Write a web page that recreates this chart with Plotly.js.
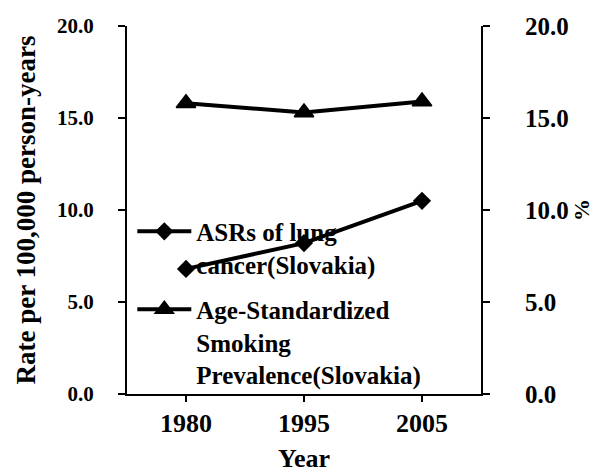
<!DOCTYPE html>
<html>
<head>
<meta charset="utf-8">
<script src="https://cdn.plot.ly/plotly-3.0.1.min.js"></script>
<style>html,body{margin:0;padding:0;background:#fff;}#chart{width:597px;height:473px;}</style>
</head>
<body>
<div id="chart"></div>
<script>
var years = ['1980', '1995', '2005'];
var lungCancerASR = [6.8, 8.2, 10.5];
var smokingPrevalence = [15.8, 15.3, 15.9];
var seriesNames = ['ASRs of lung<br>cancer(Slovakia)', 'Age-Standardized<br>Smoking<br>Prevalence(Slovakia)'];
var yTickVals = [0, 5, 10, 15, 20];
var yTickText = ['0.0', '5.0', '10.0', '15.0', '20.0'];

var FONT = '"Liberation Serif", "Times New Roman", Times, serif';

var traces = [
  {
    x: years, y: lungCancerASR, name: seriesNames[0], type: 'scatter', mode: 'lines+markers',
    line: {color: '#000', width: 4},
    marker: {symbol: 'diamond', size: 14, color: '#000'},
    legendgroup: 'g1', yaxis: 'y'
  },
  {
    x: years, y: smokingPrevalence, name: seriesNames[1], type: 'scatter', mode: 'lines+markers',
    line: {color: '#000', width: 4},
    marker: {symbol: 'triangle-up', size: 17, color: '#000', line: {color: '#000', width: 1.5}},
    legendgroup: 'g2', yaxis: 'y2'
  }
];

var axisCommon = {
  range: [0, 20], tickvals: yTickVals, ticktext: yTickText,
  showline: true, linecolor: '#000', linewidth: 2,
  ticks: 'outside', ticklen: 7, tickwidth: 2, tickcolor: '#000',
  showgrid: false, zeroline: false, fixedrange: true
};

var layout = {
  width: 597, height: 473,
  margin: {l: 127, r: 116, t: 26, b: 79, pad: 0},
  paper_bgcolor: '#fff', plot_bgcolor: '#fff',
  font: {family: FONT, color: '#000', weight: 700},
  showlegend: true,
  legend: {
    x: 0.015, y: 0.504, xanchor: 'left', yanchor: 'top',
    bgcolor: 'rgba(0,0,0,0)', borderwidth: 0,
    font: {family: FONT, size: 25, color: '#000', weight: 700},
    itemwidth: 54, valign: 'top', traceorder: 'grouped', tracegroupgap: 10
  },
  xaxis: {
    type: 'category', range: [-0.5, 2.5],
    showline: true, linecolor: '#000', linewidth: 2,
    ticks: 'outside', ticklen: 6, tickwidth: 2, tickcolor: '#000',
    tickfont: {family: FONT, size: 26, weight: 700, color: '#000'},
    ticklabelstandoff: -1,
    showgrid: false, zeroline: false,
    title: {text: 'Year', font: {family: FONT, size: 26, weight: 700, color: '#000'}, standoff: 20}
  },
  yaxis: Object.assign({}, axisCommon, {
    side: 'left',
    tickfont: {family: FONT, size: 21, weight: 700, color: '#000'},
    ticklabelstandoff: 20,
    title: {text: 'Rate per 100,000 person-years', font: {family: FONT, size: 27, weight: 700, color: '#000'}, standoff: 14}
  }),
  yaxis2: Object.assign({}, axisCommon, {
    side: 'right', overlaying: 'y',
    tickfont: {family: FONT, size: 25, weight: 700, color: '#000'},
    ticklabelstandoff: 30,
    title: {text: '%', font: {family: FONT, size: 22, weight: 700, color: '#000'}, standoff: 5}
  })
};

Plotly.newPlot('chart', traces, layout, {displayModeBar: false, staticPlot: true});
</script>
</body>
</html>
